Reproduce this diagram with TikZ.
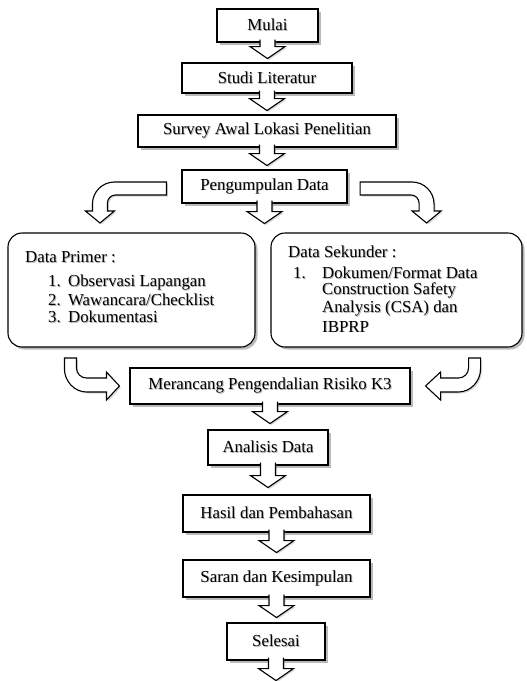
\documentclass[tikz,border=0pt]{standalone}
\usepackage{fontspec}
\setmainfont{Liberation Serif}
\usetikzlibrary{shadows,calc}
\newcommand{\sh}[1]{\makebox[0pt][l]{\hspace{0.9pt}\raisebox{-0.9pt}{\textcolor{black!30}{#1}}}#1}
\tikzset{
  box/.style={draw=black, line width=1.1pt, fill=white, inner sep=0pt,
    font=\fontsize{16.8}{18}\selectfont,
    drop shadow={shadow xshift=2.5pt, shadow yshift=-2.5pt, opacity=0.45, fill=black!60}},
  rbox/.style={box, rounded corners=14pt},
  txt/.style={anchor=west, inner sep=0pt, font=\fontsize{16.8}{18}\selectfont},
  barrow/.style={draw=black, line width=1.1pt, fill=white, line join=miter,
    drop shadow={shadow xshift=1.5pt, shadow yshift=-1.5pt, opacity=0.3, fill=black!50}},
}
\newcommand{\blockdown}[2]{%
  \begin{scope}[shift={(#1.south)}]
    \draw[barrow] (-7.5,-3) -- (-7.5,{#2-12}) -- (-17.5,{#2-12}) -- (0,#2)
      -- (17.5,{#2-12}) -- (7.5,{#2-12}) -- (7.5,-3);
  \end{scope}}
\begin{document}
\begin{tikzpicture}[x=1pt,y=-1pt]
\useasboundingbox (0,0) rectangle (527,681);

% boxes
\node[box, minimum width=101, minimum height=33] (mulai) at (267.5,25.5) {\sh{Mulai}};
\node[box, minimum width=170, minimum height=30] (studi) at (267,78) {\sh{Studi Literatur}};
\node[box, minimum width=258, minimum height=32] (survey) at (267,131) {\sh{Survey Awal Lokasi Penelitian}};
\node[box, minimum width=165, minimum height=33] (kumpul) at (264.5,186.5) {\sh{Pengumpulan Data}};
\node[rbox, minimum width=247, minimum height=114] (primer) at (131.5,290) {};
\node[rbox, minimum width=251, minimum height=114] (sekunder) at (396.5,290) {};
\node[box, minimum width=280, minimum height=36] (merancang) at (270,386) {\sh{Merancang Pengendalian Risiko K3}};
\node[box, minimum width=120, minimum height=35] (analisis) at (268,447.5) {\sh{Analisis Data}};
\node[box, minimum width=187, minimum height=37] (hasil) at (276.5,513.5) {\sh{Hasil dan Pembahasan}};
\node[box, minimum width=187, minimum height=37] (saran) at (276.5,578.5) {\sh{Saran dan Kesimpulan}};
\node[box, minimum width=98, minimum height=37] (selesai) at (276,641.5) {\sh{Selesai}};

% texts in rounded boxes
\node[txt] (ph) at (25,258) {\sh{Data Primer :}};
\node[txt] (p1) at (48,283) {\sh{\makebox[20pt][l]{1.}Observasi Lapangan}};
\node[txt] (p2) at (48,300) {\sh{\makebox[20pt][l]{2.}Wawancara/Checklist}};
\node[txt] (p3) at (48,317) {\sh{\makebox[20pt][l]{3.}Dokumentasi}};
\node[txt] (sh) at (288,252) {\sh{Data Sekunder :}};
\node[txt] (s1) at (293,273) {\sh{\makebox[29pt][l]{1.}Dokumen/Format Data}};
\node[txt] (s2) at (322,291) {\sh{Construction Safety}};
\node[txt] (s3) at (322,309) {\sh{Analysis (CSA) dan}};
\node[txt] (s4) at (322,327) {\sh{IBPRP}};

% straight block arrows
\blockdown{mulai}{16}
\blockdown{studi}{17}
\blockdown{survey}{18}
\blockdown{kumpul}{20}
\blockdown{merancang}{19}
\blockdown{analisis}{22}
\blockdown{hasil}{20}
\blockdown{saran}{20}
\blockdown{selesai}{20}

% bent arrow: Pengumpulan -> Data Primer
\begin{scope}[shift={(kumpul.west)}]
  \draw[barrow] (-15,-4.5) -- (-67,-4.5) .. controls (-79.1,-4.5) and (-89,5.4) .. (-89,17.5)
    -- (-89,24.5) -- (-96,24.5) -- (-81.5,36.5) -- (-67,24.5) -- (-74,24.5) -- (-74,16.5)
    .. controls (-74,12.1) and (-70.4,8.5) .. (-66,8.5) -- (-15,8.5) -- cycle;
\end{scope}
% bent arrow: Pengumpulan -> Data Sekunder
\begin{scope}[shift={(kumpul.east)}]
  \draw[barrow] (12.5,-4.5) -- (64.5,-4.5) .. controls (76.6,-4.5) and (86.5,5.4) .. (86.5,17.5)
    -- (86.5,24.5) -- (93.5,24.5) -- (79,36.5) -- (64.5,24.5) -- (71.5,24.5) -- (71.5,16.5)
    .. controls (71.5,12.1) and (67.9,8.5) .. (63.5,8.5) -- (12.5,8.5) -- cycle;
\end{scope}
% bent arrow: Data Primer -> Merancang
\begin{scope}[shift={(merancang.west)}]
  \draw[barrow] (-65,-28) -- (-65,-17) .. controls (-65,-4.9) and (-55.1,6) .. (-43,6)
    -- (-23,6) -- (-23,14) -- (-10,0) -- (-23,-14) -- (-23,-8) -- (-43,-8)
    .. controls (-48.5,-8) and (-53,-12.5) .. (-53,-18) -- (-53,-28) -- cycle;
\end{scope}
% bent arrow: Data Sekunder -> Merancang
\begin{scope}[shift={(merancang.east)}]
  \draw[barrow] (70,-28) -- (70,-17) .. controls (70,-4.9) and (60.1,6) .. (48,6)
    -- (30,6) -- (30,14) -- (15,0) -- (30,-14) -- (30,-8) -- (48,-8)
    .. controls (53.5,-8) and (58,-12.5) .. (58,-18) -- (58,-28) -- cycle;
\end{scope}
\end{tikzpicture}
\end{document}
